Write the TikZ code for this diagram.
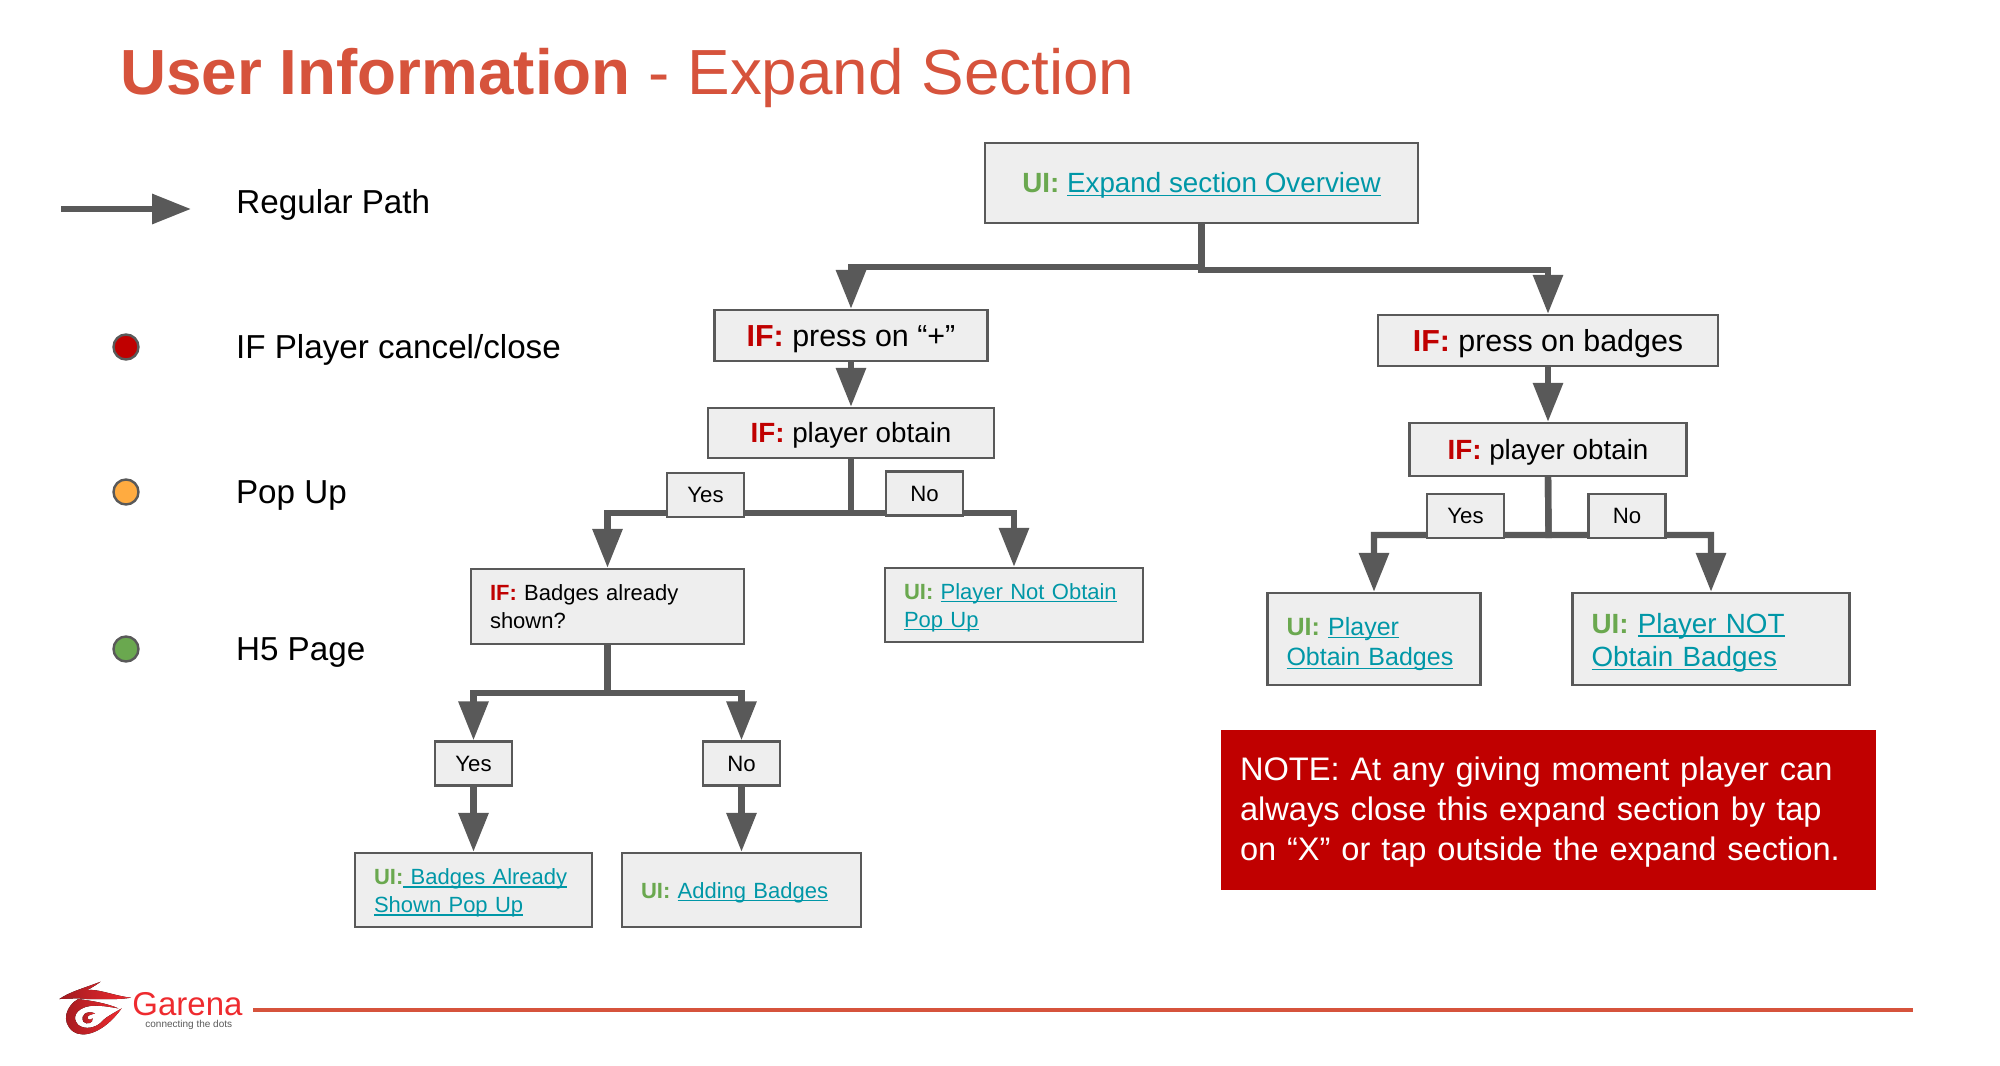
\documentclass[tikz,border=0pt]{standalone}
\usepackage{fontspec}
\setmainfont{Liberation Sans}
\usetikzlibrary{arrows.meta, positioning, backgrounds}
\definecolor{linegray}{HTML}{595959}
\definecolor{boxgray}{HTML}{EEEEEE}
\definecolor{ifred}{HTML}{C00000}
\definecolor{uigreen}{HTML}{6AA84F}
\definecolor{linkteal}{HTML}{0097A7}
\definecolor{titlered}{HTML}{D6533C}
\definecolor{popup}{HTML}{FFAB40}
\definecolor{logodark}{HTML}{A01A20}
\definecolor{logolight}{HTML}{EE2B2F}
\newcommand{\ifmark}{{\bfseries\color{ifred}IF:}}
\newcommand{\uimark}{{\bfseries\color{uigreen}UI:}}
\newcommand{\uilink}[1]{\leavevmode{\color{linkteal}\setbox0=\hbox{#1}\rlap{\rule[-0.13em]{\wd0}{0.06em}}\box0}}
\tikzstyle{bigbox} = [rectangle, draw=linegray, line width=1.2pt, fill=boxgray, inner sep=0pt, align=center, font=\fontsize{13.9}{16}\selectfont, text height=9.6pt, text depth=0pt]
\tikzstyle{middlebox} = [bigbox, font=\fontsize{15.2}{18}\selectfont, text height=10.5pt]
\tikzstyle{wrapbox} = [rectangle, draw=linegray, line width=1.2pt, fill=boxgray, inner ysep=0pt, inner xsep=9.5pt, align=left, font=\fontsize{11}{14}\selectfont]
\tikzstyle{answer} = [bigbox, minimum width=38.5pt, minimum height=22pt, font=\fontsize{11.1}{14}\selectfont, text height=7.7pt]
\tikzstyle{legenddot} = [circle, draw=linegray, line width=1.2pt, minimum size=12.5pt, inner sep=0pt]
\tikzstyle{legendtext} = [inner sep=0pt, font=\fontsize{16.6}{20}\selectfont, text height=11.5pt, text depth=0pt]
\tikzstyle{arrow} = [line width=3.2pt, draw=linegray, -{Triangle[length=19.5pt,width=14.5pt]}]
\begin{document}
\begin{tikzpicture}[x=1pt, y=1pt, node distance=50pt]
\useasboundingbox (0,0) rectangle (1000,-532.5);

\node (title) [anchor=base west, inner sep=0pt, text=titlered, font=\fontsize{31.9}{36}\selectfont] at (60,-47.5) {\textbf{User Information} - Expand Section};

% legend
\coordinate (legend_start) at (30.5,-104.5);
\coordinate (legend_end) at (95.5,-104.5);
\node (dot_close) [legenddot, fill=ifred] at (63,-173.5) {};
\node (dot_popup) [legenddot, fill=popup] at (63,-246) {};
\node (dot_page) [legenddot, fill=uigreen] at (63,-324.5) {};
\node (text_path) [legendtext, anchor=west] at (118,-101) {Regular Path};
\node (text_close) [legendtext, right=48pt of dot_close] {IF Player cancel/close};
\node (text_popup) [legendtext, right=48pt of dot_popup] {Pop Up};
\node (text_page) [legendtext, right=48pt of dot_page] {H5 Page};
\draw [arrow] (legend_start) -- (legend_end);

% left side
\node (expand_overview) [bigbox, minimum width=216.5pt, minimum height=40pt] at (600.75,-91.5) {\uimark{} \uilink{Expand section Overview}};
\node (press_plus) [middlebox, minimum width=136.5pt, minimum height=25.5pt, below of=expand_overview, xshift=-175.25pt, yshift=-26.25pt] {\ifmark{} press on “+”};
\node (obtain_left) [bigbox, minimum width=143pt, minimum height=25pt, below of=press_plus, yshift=1.25pt] {\ifmark{} player obtain};
\node (yes_left) [answer, below of=obtain_left, xshift=-72.75pt, yshift=19pt] {Yes};
\node (no_left) [answer, below of=obtain_left, xshift=36.75pt, yshift=19.75pt] {No};
\node (badges_check) [wrapbox, text width=117.5pt, minimum height=37.5pt, below of=obtain_left, xshift=-121.75pt, yshift=-36.75pt] {\ifmark{} Badges already\\shown?};
\node (not_obtain_left) [wrapbox, text width=110pt, minimum height=37pt, text depth=13.8pt, below of=no_left, xshift=44.75pt, yshift=-5.75pt] {\uimark{} \uilink{Player Not Obtain}\\\uilink{Pop Up}};
\node (yes_shown) [answer, below of=badges_check, xshift=-67pt, yshift=-28.5pt] {Yes};
\node (no_shown) [answer, below of=badges_check, xshift=67pt, yshift=-28.5pt] {No};
\node (badges_shown) [wrapbox, text width=99.5pt, minimum height=37pt, text depth=13.2pt, below of=yes_shown, yshift=-13.25pt] {\uimark\uilink{ Badges Already}\\\uilink{Shown Pop Up}};
\node (adding_badges) [wrapbox, text width=100.5pt, minimum height=37pt, text height=8.2pt, text depth=0pt, below of=no_shown, yshift=-13.25pt] {\uimark{} \uilink{Adding Badges}};

% right side
\node (press_badges) [middlebox, minimum width=170pt, minimum height=25.5pt, below of=expand_overview, xshift=173.25pt, yshift=-28.75pt] {\ifmark{} press on badges};
\node (obtain_right) [bigbox, minimum width=138.5pt, minimum height=26.5pt, below of=press_badges, yshift=-4.5pt] {\ifmark{} player obtain};
\node (yes_right) [answer, below of=obtain_right, xshift=-41.25pt, yshift=16.75pt] {Yes};
\node (no_right) [answer, below of=obtain_right, xshift=39.5pt, yshift=16.75pt] {No};
\node (player_obtain) [wrapbox, font=\fontsize{12.5}{15.3}\selectfont, text width=87.5pt, minimum height=46pt, text depth=12.9pt, below of=yes_right, xshift=-45.75pt, yshift=-11.5pt] {\uimark{} \uilink{Player}\\\uilink{Obtain Badges}};
\node (player_not_obtain) [wrapbox, font=\fontsize{13.9}{16.6}\selectfont, text width=119.5pt, minimum height=46pt, text depth=15.7pt, below of=no_right, xshift=42pt, yshift=-11.5pt] {\uimark{} \uilink{Player NOT}\\\uilink{Obtain Badges}};
\node (note) [rectangle, fill=ifred, text=white, inner xsep=9.5pt, text width=308.5pt, minimum height=80pt, text depth=40.9pt, align=left, font=\fontsize{16.3}{20}\selectfont] at (774.25,-405) {NOTE: At any giving moment player can\\always close this expand section by tap\\on “X” or tap outside the expand section.};

\coordinate (split_top_left) at (600.75,-133.5);
\coordinate (split_top_right) at (600.75,-135);
\coordinate (split_left) at (425.5,-256.5);
\coordinate (split_check) at (303.75,-346.5);
\coordinate (split_right) at (774.25,-267.5);

\begin{scope}[on background layer]
\draw [arrow] (expand_overview.south) -- (split_top_left) -| (press_plus.north);
\draw [arrow] (expand_overview.south) -- (split_top_right) -| (press_badges.north);
\draw [arrow] (press_plus) -- (obtain_left);
\draw [arrow] (obtain_left.south) -- (split_left) -| (badges_check.north);
\draw [arrow] (obtain_left.south) -- (split_left) -| (not_obtain_left.north);
\draw [arrow] (badges_check.south) -- (split_check) -| (yes_shown.north);
\draw [arrow] (badges_check.south) -- (split_check) -| (no_shown.north);
\draw [arrow] (yes_shown) -- (badges_shown);
\draw [arrow] (no_shown) -- (adding_badges);
\draw [arrow] (press_badges) -- (obtain_right);
\draw [arrow] (obtain_right.south) -- (split_right) -| (player_obtain.north);
\draw [arrow] (obtain_right.south) -- (split_right) -| (player_not_obtain.north);
\end{scope}

% footer
\begin{scope}[shift={(25,-487.5)}, x=0.1667pt, y=-0.1667pt]
\fill [left color=logodark, right color=logolight] (28,72) .. controls (60,50) and (100,40) .. (152,20) .. controls (135,32) and (125,38) .. (112,45) .. controls (150,42) and (190,62) .. (243,68) .. controls (200,75) and (150,72) .. (110,72) .. controls (80,68) and (50,72) .. (28,72) -- cycle;
\fill [left color=logodark, right color=logolight] (85,72) .. controls (50,90) and (30,140) .. (70,170) .. controls (100,190) and (160,175) .. (215,100) .. controls (190,115) and (170,125) .. (160,135) .. controls (140,160) and (105,165) .. (85,150) .. controls (65,130) and (75,100) .. (120,93) .. controls (150,90) and (175,95) .. (205,100) .. controls (170,85) and (130,78) .. (85,72) -- cycle;
\fill [left color=logodark, right color=logolight] (135,115) .. controls (110,105) and (90,120) .. (100,140) .. controls (110,150) and (130,145) .. (128,130) .. controls (118,140) and (108,130) .. (115,122) .. controls (120,118) and (130,118) .. (135,115) -- cycle;
\end{scope}
\node (brand) [anchor=base west, inner sep=0pt, text=logolight, font=\fontsize{16.5}{18}\selectfont] at (66,-507.5) {Garena};
\node (slogan) [anchor=base west, inner sep=0pt, text=linegray, font=\fontsize{5}{6}\selectfont] at (72.5,-513.5) {connecting the dots};
\coordinate (footer_start) at (126.5,-505);
\coordinate (footer_end) at (956.5,-505);
\draw [titlered, line width=2pt] (footer_start) -- (footer_end);

\end{tikzpicture}
\end{document}
